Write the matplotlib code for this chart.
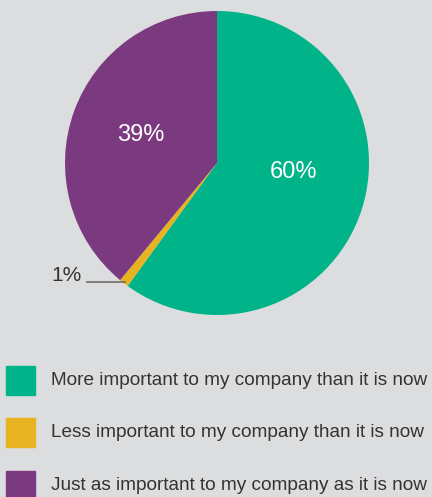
import matplotlib.pyplot as plt
from matplotlib.patches import Rectangle

labels = ["More important to my company than it is now",
          "Less important to my company than it is now",
          "Just as important to my company as it is now"]
shares = [60, 1, 39]
colors = ["#00b388", "#e8b321", "#7b3a80"]
bg = "#dcdddf"

W, H = 432, 497
fig = plt.figure(figsize=(W / 100, H / 100), dpi=100, facecolor=bg)
plt.rcParams['font.family'] = ['Liberation Sans', 'DejaVu Sans']

# pie: centre (217,163) px, radius 152 px
cx, cy, r = 217, 163, 152
ax = fig.add_axes([(cx - r) / W, (H - cy - r) / H, 2 * r / W, 2 * r / H])
ax.set_facecolor(bg)
wedges, _ = ax.pie(shares, colors=colors, startangle=90, counterclock=False,
                   radius=1, wedgeprops=dict(linewidth=0))
ax.set_xlim(-1, 1)
ax.set_ylim(-1, 1)
ax.set_aspect('equal')
ax.axis('off')

ax.text(0.50, -0.056, f"{shares[0]}%", color="white", fontsize=17,
        ha="center", va="center")
ax.text(-0.50, 0.181, f"{shares[2]}%", color="white", fontsize=17,
        ha="center", va="center")
ax.text(-0.888, -0.737, f"{shares[1]}%", color="#333333", fontsize=15,
        ha="right", va="center")
ax.plot([-0.855, -0.605], [-0.783, -0.783], color="#6e6e6e", lw=1.2,
        clip_on=False)

# legend rows
rows_y = [366, 418, 471]
for y, lab, c in zip(rows_y, labels, colors):
    fig.patches.append(Rectangle((6 / W, 1 - (y + 29) / H), 29 / W, 29 / H,
                                 transform=fig.transFigure, color=c))
    fig.text(51 / W, 1 - (y + 14.5) / H, lab, fontsize=13.7,
             color="#333333", ha="left", va="center")

fig.savefig("out.png", dpi=100, facecolor=bg)
